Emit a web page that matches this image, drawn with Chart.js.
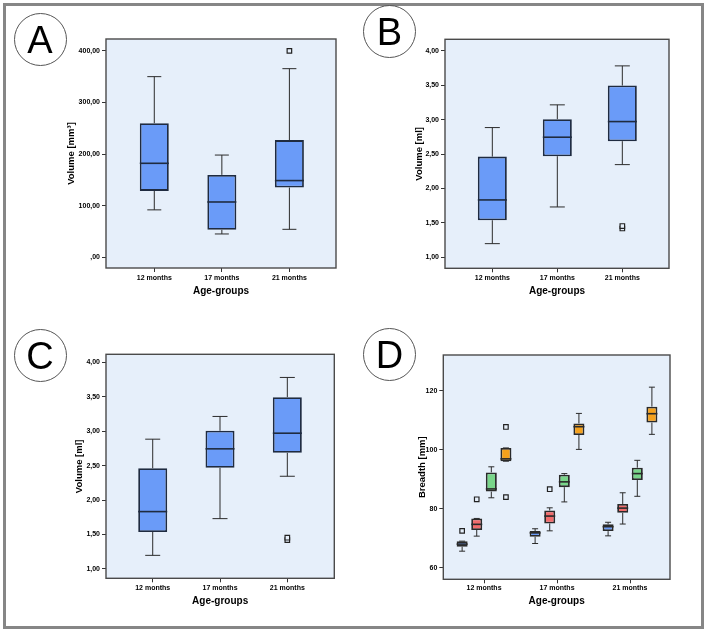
<!DOCTYPE html>
<html>
<head>
<meta charset="utf-8">
<script src="https://cdn.jsdelivr.net/npm/chart.js@4.4.0/dist/chart.umd.min.js"></script>
<style>
  body { margin: 0; background: #fff; }
  #wrap { position: relative; width: 707px; height: 631px; overflow: hidden; }
  #frame { position: absolute; left: 3px; top: 3px; width: 701px; height: 626px; border: 3px solid #868686; box-sizing: border-box; }
  canvas { position: absolute; }
  .tag { position: absolute; width: 53px; height: 53px; border: 1px solid #555; border-radius: 50%; box-sizing: border-box;
         font: 38px "Liberation Sans", Arial, sans-serif; text-align: center; line-height: 52px; color: #000; z-index: 2; }
</style>
</head>
<body>
<div id="wrap">
  <div id="frame"></div>
  <canvas id="cA" width="353" height="315" style="left:0;top:0"></canvas>
  <canvas id="cB" width="353" height="315" style="left:354px;top:0"></canvas>
  <canvas id="cC" width="353" height="316" style="left:0;top:315px"></canvas>
  <canvas id="cD" width="353" height="316" style="left:354px;top:315px"></canvas>
  <div class="tag" style="left:13.5px;top:12.5px">A</div>
  <div class="tag" style="left:363px;top:4.5px">B</div>
  <div class="tag" style="left:13.5px;top:329px">C</div>
  <div class="tag" style="left:363px;top:328px">D</div>
</div>
<script>
Chart.defaults.font.family = '"Liberation Sans", Arial, sans-serif';
Chart.defaults.color = '#000';

const groups = ["12 months", "17 months", "21 months"];

// A: volume in mm3
const aMin = [91.7, 45, 54];
const aQ1 = [128.5, 53, 135];
const aMed = [182, 107, 148.5];
const aQ3 = [259.7, 159.5, 227];
const aMax = [350, 198, 365.5];
const aOut = [[], [], [400]];
const aTicks = [0, 100, 200, 300, 400];
const aTickLabels = [",00", "100,00", "200,00", "300,00", "400,00"];

// B and C: volume in ml (same figures in both panels)
const bMin = [1.198, 1.731, 2.346];
const bQ1 = [1.538, 2.468, 2.686];
const bMed = [1.833, 2.744, 2.971];
const bQ3 = [2.462, 3.006, 3.494];
const bMax = [2.884, 3.214, 3.78];
const bOut = [[], [], [1.418, 1.454]];
const bTicks = [1, 1.5, 2, 2.5, 3, 3.5, 4];
const bTickLabels = ["1,00", "1,50", "2,00", "2,50", "3,00", "3,50", "4,00"];

// D: breadth in mm, four series per age group
const dMin = [[65.6, 68.2, 70.8], [70.7, 72.5, 74.8], [83.7, 82.3, 84.2], [96.1, 100.1, 105.2]];
const dQ1  = [[67.1, 70.5, 72.4], [72.8, 75.0, 78.6], [85.8, 87.3, 89.7], [96.1, 105.0, 109.2]];
const dMed = [[68.0, 71.8, 73.9], [74.7, 77.5, 80.2], [86.7, 89.1, 91.9], [96.9, 107.8, 112.2]];
const dQ3  = [[69.0, 72.4, 74.7], [76.7, 79.4, 81.6], [92.3, 91.5, 93.9], [100.6, 108.9, 114.6]];
const dMax = [[69.0, 73.2, 75.4], [76.7, 80.3, 85.4], [94.2, 91.9, 96.4], [100.6, 112.3, 121.2]];
const dOut = [[[72.5], [], []], [[83.2], [86.6], []], [[], [], []], [[107.7, 83.9], [], []]];
const dTicks = [60, 80, 100, 120];
const dTickLabels = ["60", "80", "100", "120"];

const blue = "#6a9bf8";
const dColors = [blue, "#f26c6c", "#79d68a", "#f5a11c"];
const dOffsets = [-0.3, -0.1, 0.1, 0.3];

function boxPlugin(p) {
  return {
    id: "boxes",
    beforeDraw(chart) {
      const { ctx, chartArea: a } = chart;
      ctx.save();
      ctx.fillStyle = "#e6effa";
      ctx.fillRect(a.left, a.top, a.width, a.height);
      ctx.restore();
    },
    beforeDatasetsDraw(chart) {
      const { ctx, scales: { x, y } } = chart;
      ctx.save();
      ctx.strokeStyle = "#2b2b2b";
      ctx.lineWidth = 1;
      p.series.forEach(s => {
        groups.forEach((g, i) => {
          const px = x.getPixelForValue(i + s.off);
          [[s.q3[i], s.max[i]], [s.q1[i], s.min[i]]].forEach(([from, to]) => {
            ctx.beginPath();
            ctx.moveTo(px, y.getPixelForValue(from));
            ctx.lineTo(px, y.getPixelForValue(to));
            ctx.moveTo(px - p.cap / 2, y.getPixelForValue(to));
            ctx.lineTo(px + p.cap / 2, y.getPixelForValue(to));
            ctx.stroke();
          });
        });
      });
      ctx.restore();
    },
    afterDatasetsDraw(chart) {
      const { ctx, chartArea: a, scales: { x, y } } = chart;
      ctx.save();
      ctx.strokeStyle = p.edge;
      ctx.lineWidth = 1.6;
      p.series.forEach(s => {
        groups.forEach((g, i) => {
          const px = x.getPixelForValue(i + s.off);
          const py = y.getPixelForValue(s.med[i]);
          ctx.beginPath();
          ctx.moveTo(px - p.box / 2, py);
          ctx.lineTo(px + p.box / 2, py);
          ctx.stroke();
        });
      });
      ctx.strokeStyle = "#4a4a4a";
      ctx.lineWidth = 1.4;
      ctx.strokeRect(a.left, a.top, a.width, a.height);
      ctx.restore();
    }
  };
}

function boxChart(id, p) {
  const datasets = [];
  p.series.forEach(s => {
    datasets.push({
      type: "bar",
      data: groups.map((g, i) => ({ x: i + s.off, y: [s.q1[i], s.q3[i]] })),
      backgroundColor: s.color,
      borderColor: p.edge,
      borderWidth: 1.8,
      borderSkipped: false,
      grouped: false,
      barPercentage: 0.95,
      maxBarThickness: p.box
    });
  });
  p.series.forEach(s => {
    const pts = [];
    s.out.forEach((vals, i) => vals.forEach(v => pts.push({ x: i + s.off, y: v })));
    datasets.push({
      type: "scatter",
      data: pts,
      pointStyle: "rect",
      pointRadius: 3.2,
      backgroundColor: "#e6effa",
      borderColor: "#222",
      borderWidth: 1.2
    });
  });

  const tickFont = { size: 7, weight: "bold" };
  new Chart(document.getElementById(id), {
    type: "bar",
    data: { datasets },
    plugins: [boxPlugin(p)],
    options: {
      responsive: false,
      animation: false,
      devicePixelRatio: 1,
      layout: { padding: { left: 0, top: p.padTop, right: p.padRight, bottom: 0 } },
      plugins: { legend: { display: false }, tooltip: { enabled: false } },
      scales: {
        x: {
          type: "linear",
          min: p.xMin,
          max: p.xMax,
          offset: false,
          afterBuildTicks: sc => { sc.ticks = groups.map((g, i) => ({ value: i })); },
          ticks: { callback: v => groups[v], font: tickFont, color: "#000", padding: p.xTickPad, maxRotation: 0, autoSkip: false },
          grid: { offset: false, drawOnChartArea: false, drawTicks: true, tickLength: 4, color: "#333" },
          border: { display: false },
          title: { display: true, text: "Age-groups", font: { size: 10, weight: "bold" }, color: "#000", padding: { bottom: p.xTitlePad } },
          afterFit: sc => { sc.height = p.xH; sc.paddingLeft = 0; sc.paddingRight = 0; }
        },
        y: {
          type: "linear",
          min: p.yMin,
          max: p.yMax,
          beginAtZero: false,
          afterBuildTicks: sc => { sc.ticks = p.yTicks.map(v => ({ value: v })); },
          ticks: { callback: v => p.yLabels[p.yTicks.indexOf(v)], font: tickFont, color: "#000", padding: 2 },
          grid: { drawOnChartArea: false, drawTicks: true, tickLength: 4, color: "#333" },
          border: { display: false },
          title: { display: true, text: p.yTitle, font: { size: 9.5, weight: "bold" }, color: "#000", padding: { top: p.yTitlePad } },
          afterFit: sc => { sc.width = p.yW; sc.paddingTop = 0; sc.paddingBottom = 0; }
        }
      }
    }
  });
}

const aSeries = [{ min: aMin, q1: aQ1, med: aMed, q3: aQ3, max: aMax, out: aOut, color: blue, off: 0 }];
const bSeries = [{ min: bMin, q1: bQ1, med: bMed, q3: bQ3, max: bMax, out: bOut, color: blue, off: 0 }];
const dSeries = dColors.map((c, k) => ({
  min: dMin[k], q1: dQ1[k], med: dMed[k], q3: dQ3[k], max: dMax[k], out: dOut[k], color: c, off: dOffsets[k]
}));

boxChart("cA", {
  series: aSeries, box: 29, cap: 14, edge: "#1f2b40",
  xMin: -0.715, xMax: 2.69, yMin: -21, yMax: 423,
  yTicks: aTicks, yLabels: aTickLabels, yTitle: "Volume [mm³]",
  yW: 106, xH: 47, padTop: 39, padRight: 17, yTitlePad: 65.3, xTitlePad: 17.3, xTickPad: 2
});

boxChart("cB", {
  series: bSeries, box: 29, cap: 15, edge: "#1f2b40",
  xMin: -0.728, xMax: 2.718, yMin: 0.84, yMax: 4.166,
  yTicks: bTicks, yLabels: bTickLabels, yTitle: "Volume [ml]",
  yW: 91, xH: 46.7, padTop: 39.3, padRight: 38, yTitlePad: 59.3, xTitlePad: 17.3, xTickPad: 2
});

boxChart("cC", {
  series: bSeries, box: 29, cap: 15, edge: "#1f2b40",
  xMin: -0.694, xMax: 2.698, yMin: 0.865, yMax: 4.116,
  yTicks: bTicks, yLabels: bTickLabels, yTitle: "Volume [ml]",
  yW: 106, xH: 52.7, padTop: 39.3, padRight: 18.7, yTitlePad: 73.3, xTitlePad: 24, xTickPad: 2
});

boxChart("cD", {
  series: dSeries, box: 11, cap: 6, edge: "#2a2a2a",
  xMin: -0.558, xMax: 2.548, yMin: 56.07, yMax: 132.1,
  yTicks: dTicks, yLabels: dTickLabels, yTitle: "Breadth [mm]",
  yW: 89.3, xH: 51.7, padTop: 40, padRight: 37, yTitlePad: 62.6, xTitlePad: 24, xTickPad: 1
});
</script>
</body>
</html>
